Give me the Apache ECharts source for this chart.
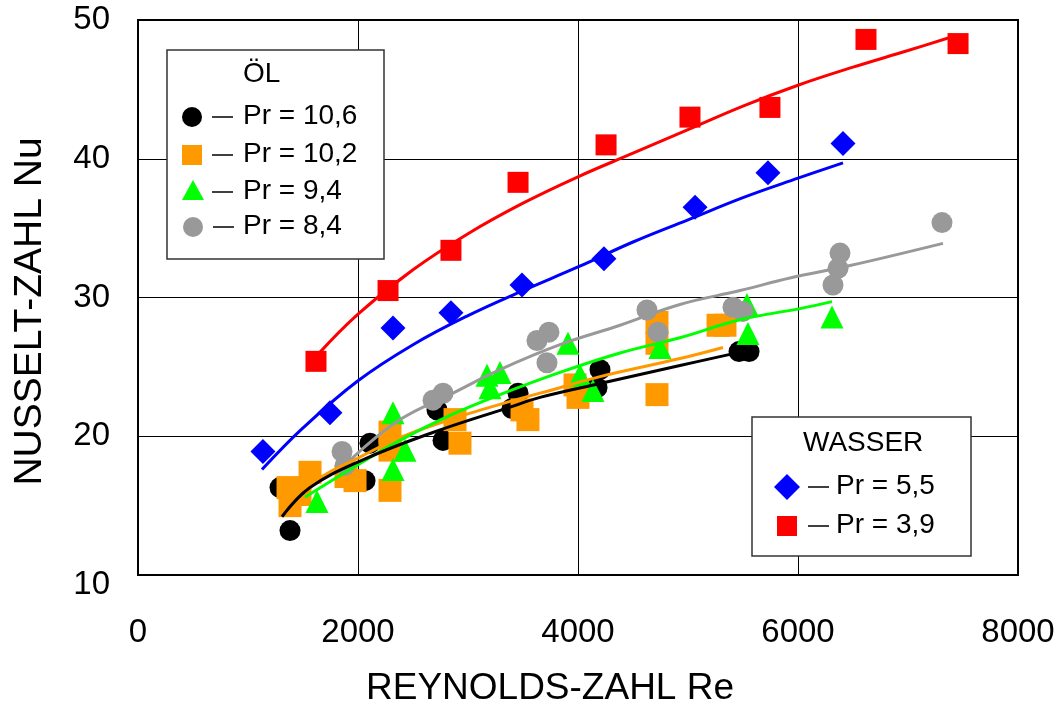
<!DOCTYPE html>
<html><head><meta charset="utf-8">
<script src="https://cdn.jsdelivr.net/npm/echarts/dist/echarts.min.js"></script>
<style>html,body{margin:0;padding:0;background:#fff}#c{width:1063px;height:714px}</style>
</head><body><div id="c"></div>
<script>
// axis ticks
const xTicks = [0, 2000, 4000, 6000, 8000];
const yTicks = [10, 20, 30, 40, 50];

// ÖL  Pr = 10,6 (black circles) [Re, Nu]
const oil106Pts = [[1291,16.3],[1382,13.2],[2064,16.8],[2109,19.5],[2718,21.9],[2773,19.7],[3455,23.1],[3400,22.0],[4200,24.8],[4173,23.5],[5464,26.1],[5555,26.1]];
const oil106Fit = [[1309,14.2],[1564,16.3],[2045,18.3],[2655,20.2],[3382,22.1],[3655,22.8],[4200,23.8],[4927,25.1],[5382,25.9]];
// ÖL  Pr = 10,2 (orange squares)
const oil102Pts = [[1364,16.3],[1382,15.0],[1473,15.8],[1564,17.4],[1891,17.1],[1973,16.8],[2291,20.3],[2291,19.0],[2291,16.1],[2882,21.2],[2927,19.5],[3491,21.9],[3545,21.2],[3973,23.7],[4000,22.8],[4718,28.2],[4718,26.7],[4718,23.0],[5273,28.0],[5336,28.0]];
const oil102Fit = [[1336,15.0],[1655,17.0],[2018,18.5],[2382,19.9],[2836,21.2],[3291,22.3],[3836,23.5],[4200,24.3],[4927,25.6],[5318,26.4]];
// ÖL  Pr = 9,4 (green triangles)
const oil94Pts = [[1627,15.3],[2318,21.7],[2318,17.6],[2427,19.0],[3173,24.4],[3291,24.6],[3200,23.5],[3909,26.7],[4018,24.4],[4136,23.3],[4745,26.4],[5536,29.5],[5545,27.4],[6309,28.6]];
const oil94Fit = [[1518,15.6],[1927,17.6],[2382,19.7],[2836,21.5],[3291,23.0],[3836,24.6],[4382,26.0],[4927,27.1],[5473,28.4],[6018,29.2],[6309,29.7]];
// ÖL  Pr = 8,4 (grey circles)
const oil84Pts = [[1855,18.9],[1882,17.9],[2682,22.6],[2773,23.1],[3627,26.9],[3736,27.5],[3718,25.3],[4627,29.1],[4727,27.5],[5409,29.3],[5500,29.0],[6382,33.2],[6364,32.1],[6318,30.9],[7309,35.4]];
const oil84Fit = [[1945,18.4],[2382,21.2],[2836,23.0],[3291,24.8],[3836,26.6],[4382,28.0],[4927,29.5],[5473,30.5],[5927,31.4],[6473,32.3],[7318,33.9]];
// WASSER  Pr = 5,5 (blue diamonds)
const w55Pts = [[1136,18.9],[1745,21.7],[2318,27.8],[2845,28.9],[3491,30.9],[4236,32.8],[5064,36.5],[5727,39.0],[6409,41.1]];
const w55Fit = [[1127,17.6],[1500,20.6],[2000,24.0],[2500,26.6],[3000,28.7],[3500,30.5],[4000,32.2],[4500,34.0],[5000,35.6],[5500,37.2],[6000,38.6],[6409,39.7]];
// WASSER  Pr = 3,9 (red squares)
const w39Pts = [[1618,25.4],[2273,30.5],[2845,33.4],[3455,38.3],[4255,41.0],[5018,43.0],[5745,43.7],[6618,48.6],[7455,48.3]];
const w39Fit = [[1636,25.9],[2000,28.8],[2500,32.0],[3000,34.6],[3500,36.8],[4000,38.7],[4500,40.4],[5000,42.1],[5500,43.8],[6000,45.3],[6500,46.6],[7000,47.8],[7445,48.9]];

const FONT = 'Liberation Sans, Arial, sans-serif';
const C = {black:'#000000', orange:'#ff9900', green:'#00ff00', grey:'#999999', blue:'#0000ff', red:'#ff0000'};

function sc(name, data, symbol, size, color, z) {
  return {name, type:'scatter', data, symbol, symbolSize:size, itemStyle:{color, opacity:1}, z, silent:true};
}
function ln(name, data, color, z) {
  return {name, type:'line', data, smooth:0.4, showSymbol:false, lineStyle:{color, width:3}, z, silent:true};
}

const chart = echarts.init(document.getElementById('c'), null, {renderer:'canvas'});
const lx = 192, ly = [117,155,192,227];
const wx = 787, wy = [487,526];
function legText(x, y, t){ return {type:'text', left:x, top:y-15, style:{text:t, font:'28px '+FONT, fill:'#000'}, z:100}; }
function dash(x, y){ return {type:'line', shape:{x1:x, y1:y, x2:x+21, y2:y}, style:{stroke:'#000', lineWidth:1.5}, z:100}; }

chart.setOption({
  animation:false,
  backgroundColor:'#fff',
  grid:{left:138, right:45, top:20, bottom:139, show:true, borderColor:'#000', borderWidth:2, backgroundColor:'#fff'},
  xAxis:{type:'value', min:xTicks[0], max:xTicks[xTicks.length-1], interval:2000,
    axisLine:{show:false}, axisTick:{show:false},
    splitLine:{show:true, lineStyle:{color:'#000', width:1}},
    axisLabel:{margin:41, fontSize:33, color:'#000', fontFamily:FONT, formatter: v => String(v)},
    name:'REYNOLDS-ZAHL Re', nameLocation:'middle', nameGap:95,
    nameTextStyle:{fontSize:37, color:'#000', fontFamily:FONT, padding:[0,56,0,0]}},
  yAxis:{type:'value', min:yTicks[0], max:yTicks[yTicks.length-1], interval:10,
    axisLine:{show:false}, axisTick:{show:false},
    splitLine:{show:true, lineStyle:{color:'#000', width:1}},
    axisLabel:{margin:28, fontSize:33, color:'#000', fontFamily:FONT,
      formatter: v => v === 10 ? '{low|10}' : String(v),
      rich:{low:{fontSize:33, fontFamily:FONT, color:'#000', padding:[20,0,0,0]}}},
    name:'NUSSELT-ZAHL Nu', nameLocation:'middle', nameGap:88, nameRotate:90,
    nameTextStyle:{fontSize:39, color:'#000', fontFamily:FONT, padding:[0,28,0,0]}},
  series:[
    sc('Pr = 10,6', oil106Pts, 'circle', 21, C.black, 2),
    sc('Pr = 10,2', oil102Pts, 'rect', 23, C.orange, 3),
    sc('Pr = 9,4', oil94Pts, 'triangle', 23, C.green, 4),
    sc('Pr = 8,4', oil84Pts, 'circle', 21, C.grey, 5),
    sc('Pr = 5,5', w55Pts, 'diamond', 25, C.blue, 5),
    sc('Pr = 3,9', w39Pts, 'rect', 21, C.red, 5),
    ln('fit 10,6', oil106Fit, C.black, 10),
    ln('fit 10,2', oil102Fit, C.orange, 9),
    ln('fit 9,4', oil94Fit, C.green, 9),
    ln('fit 8,4', oil84Fit, C.grey, 9),
    ln('fit 5,5', w55Fit, C.blue, 9),
    ln('fit 3,9', w39Fit, C.red, 9)
  ],
  graphic:[
    {type:'rect', shape:{x:167, y:50, width:217, height:209}, style:{fill:'#fff', stroke:'#333', lineWidth:1.5}, z:99},
    {type:'text', left:243, top:60, style:{text:'ÖL', font:'28px '+FONT, fill:'#000'}, z:100},
    {type:'circle', shape:{cx:lx, cy:ly[0], r:10}, style:{fill:C.black}, z:100},
    {type:'rect', shape:{x:lx-10, y:ly[1]-10, width:20, height:20}, style:{fill:C.orange}, z:100},
    {type:'polygon', shape:{points:[[lx+1,ly[2]-12],[lx+12,ly[2]+8],[lx-10,ly[2]+8]]}, style:{fill:C.green}, z:100},
    {type:'circle', shape:{cx:lx+1, cy:ly[3], r:10}, style:{fill:C.grey}, z:100},
    dash(212, ly[0]), dash(212, ly[1]), dash(212, ly[2]), dash(213, ly[3]),
    legText(243, ly[0], 'Pr = 10,6'), legText(243, ly[1], 'Pr = 10,2'),
    legText(243, ly[2], 'Pr = 9,4'), legText(243, ly[3], 'Pr = 8,4'),

    {type:'rect', shape:{x:752, y:417, width:219, height:139}, style:{fill:'#fff', stroke:'#333', lineWidth:1.5}, z:99},
    {type:'text', left:803, top:429, style:{text:'WASSER', font:'28px '+FONT, fill:'#000'}, z:100},
    {type:'polygon', shape:{points:[[wx,wy[0]-13],[wx+13,wy[0]],[wx,wy[0]+13],[wx-13,wy[0]]]}, style:{fill:C.blue}, z:100},
    {type:'rect', shape:{x:wx-10, y:wy[1]-10, width:20, height:20}, style:{fill:C.red}, z:100},
    dash(808, wy[0]), dash(808, wy[1]),
    legText(836, wy[0], 'Pr = 5,5'), legText(836, wy[1], 'Pr = 3,9')
  ]
});
</script></body></html>
